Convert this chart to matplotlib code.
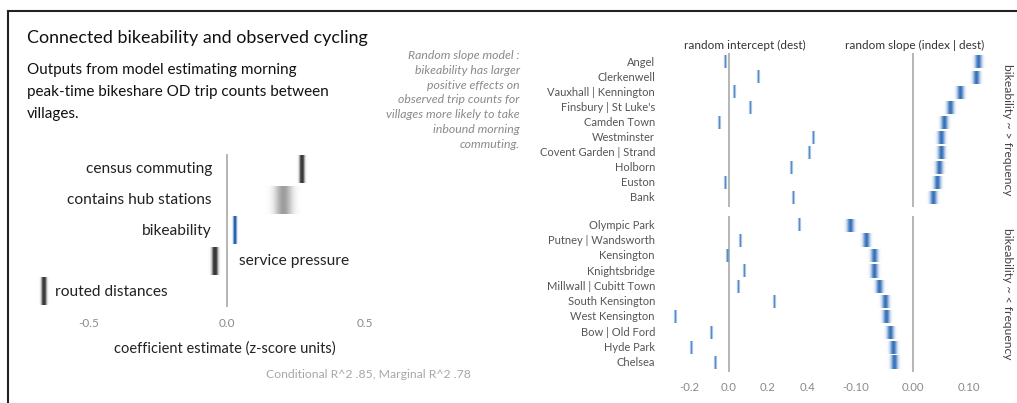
import numpy as np
import matplotlib
matplotlib.use('Agg')
import matplotlib.pyplot as plt
import matplotlib.transforms as mtransforms
from matplotlib.colors import to_rgb
from matplotlib.lines import Line2D

plt.rcParams['font.family'] = ['Lato', 'DejaVu Sans']

# fixed effects
terms = ['census commuting', 'contains hub stations', 'bikeability', 'service pressure', 'routed distances']
est = [0.27, 0.205, 0.027, -0.045, -0.665]
est_sd = [0.006, 0.022, 0.004, 0.007, 0.006]

# random effects, top facet (bikeability ~ > frequency)
top_names = ['Angel', 'Clerkenwell', 'Vauxhall | Kennington', 'Finsbury | St Luke\'s', 'Camden Town',
             'Westminster', 'Covent Garden | Strand', 'Holborn', 'Euston', 'Bank']
top_icpt = [-0.02, 0.15, 0.03, 0.11, -0.05, 0.43, 0.41, 0.32, -0.02, 0.33]
top_slope = [0.117, 0.112, 0.085, 0.067, 0.056, 0.051, 0.050, 0.047, 0.044, 0.036]

# bottom facet (bikeability ~ < frequency)
bot_names = ['Olympic Park', 'Putney | Wandsworth', 'Kensington', 'Knightsbridge', 'Millwall | Cubitt Town',
             'South Kensington', 'West Kensington', 'Bow | Old Ford', 'Hyde Park', 'Chelsea']
bot_icpt = [0.36, 0.06, -0.005, 0.08, 0.05, 0.23, -0.27, -0.09, -0.19, -0.07]
bot_slope = [-0.111, -0.082, -0.068, -0.068, -0.059, -0.049, -0.047, -0.039, -0.035, -0.032]

icpt_sd = 0.0035
slope_sd = 0.0042

W, H = 1017, 403
fig = plt.figure(figsize=(W / 100, H / 100), dpi=100)


def px_axes(l, t, r, b):
    ax = fig.add_axes([l / W, 1 - b / H, (r - l) / W, (b - t) / H])
    ax.patch.set_alpha(0)
    for s in ax.spines.values():
        s.set_visible(False)
    return ax


def blur_mark(ax, x, y, sd, h, color, peak=1.0, zorder=3):
    # gradient bar: opacity follows a normal curve around the estimate
    xs = np.linspace(x - 3.5 * sd, x + 3.5 * sd, 41)
    a = np.exp(-0.5 * ((xs - x) / sd) ** 2)
    a = np.clip(a * peak, 0, 1)
    img = np.zeros((2, len(xs), 4))
    img[:, :, :3] = to_rgb(color)
    img[:, :, 3] = a
    ax.imshow(img, extent=(xs[0], xs[-1], y + h / 2, y - h / 2), aspect='auto',
              interpolation='bilinear', zorder=zorder)


# frame lines
fig.add_artist(Line2D([8 / W, 8 / W], [0, 1 - 11 / H], color='#222222', lw=1.5))
fig.add_artist(Line2D([8 / W, 1], [1 - 11 / H, 1 - 11 / H], color='#222222', lw=1.5))

# titles
fig.text(27 / W, 1 - 38 / H, 'Connected bikeability and observed cycling', fontsize=12.9,
         color='#111111', va='center')
fig.text(27 / W, 1 - 63 / H, 'Outputs from model estimating morning\npeak-time bikeshare OD trip counts between\nvillages.',
         fontsize=11, color='#111111', va='top', linespacing=1.72)

fig.text(520 / W, 1 - 50 / H, 'Random slope model :\nbikeability has larger\npositive effects on\nobserved trip counts for\n'
         'villages more likely to take\ninbound morning\ncommuting.', fontsize=8.8, style='italic',
         color='#8a8a8a', ha='right', va='top', linespacing=1.42)

# left panel: fixed effects
ax = px_axes(30, 154, 420, 307)
ax.set_xlim(-0.714, 0.699)
ax.set_ylim(4.5, -0.5)
ax.axvline(0, color='#b0b0b0', lw=1.3, zorder=1)
for i, t in enumerate(terms):
    col = '#1f5fae' if t == 'bikeability' else '#3a3a3a'
    blur_mark(ax, est[i], i, est_sd[i], 0.9, col, peak=min(1.3, 0.011 / est_sd[i]))
    if est[i] >= 0:
        ax.text(-0.055, i, t, ha='right', va='center', fontsize=11.2, color='#222222')
    elif est[i] > -0.3:
        ax.text(0.043, i, t, ha='left', va='center', fontsize=11.2, color='#222222')
    else:
        ax.text(est[i] + 0.042, i, t, ha='left', va='center', fontsize=11.2, color='#222222')
ax.set_yticks([])
ax.set_xticks([-0.5, 0.0, 0.5])
ax.set_xticklabels(['-0.5', '0.0', '0.5'])
ax.tick_params(axis='x', length=0, labelsize=8.5, labelcolor='#8a8a8a', pad=8)
ax.set_xlabel('coefficient estimate (z-score units)', fontsize=10.5, color='#222222', labelpad=9)
fig.text(368 / W, 1 - 375 / H, 'Conditional R^2 .85, Marginal R^2 .78', fontsize=8.8,
         color='#a8a8a8', ha='center', va='center')

# right panels: random effects
facets = [(top_names, top_icpt, top_slope, 53, 207, 'bikeability ~ > frequency'),
          (bot_names, bot_icpt, bot_slope, 216, 372, 'bikeability ~ < frequency')]
for k, (names, icpt, slope, t, b, strip) in enumerate(facets):
    ai = px_axes(670, t, 820, b)
    asl = px_axes(840, t, 990, b)
    ai.set_xlim(-0.30, 0.465)
    asl.set_xlim(-0.1285, 0.137)
    for a in (ai, asl):
        a.set_ylim(len(names) - 0.4, -0.6)
        a.axvline(0, color='#b0b0b0', lw=1.3, zorder=1)
        a.set_yticks([])
        a.tick_params(axis='x', length=0, labelsize=8.2, labelcolor='#8a8a8a', pad=7)
    for i in range(len(names)):
        blur_mark(ai, icpt[i], i, icpt_sd, 0.82, '#4a84c8', peak=1.2)
        blur_mark(asl, slope[i], i, slope_sd, 0.85, '#3470ba', peak=1.0)
    tr = mtransforms.blended_transform_factory(fig.transFigure, ai.transData)
    for i, n in enumerate(names):
        fig.text(655 / W, i, n, transform=tr, ha='right', va='center', fontsize=8.0, color='#555555')
    if k == 0:
        ai.set_xticks([])
        asl.set_xticks([])
        ai.set_title('random intercept (dest)', fontsize=8.5, color='#333333', pad=3)
        asl.set_title('random slope (index | dest)', fontsize=8.5, color='#333333', pad=3)
    else:
        ai.set_xticks([-0.2, 0.0, 0.2, 0.4])
        ai.set_xticklabels(['-0.2', '0.0', '0.2', '0.4'])
        asl.set_xticks([-0.10, 0.0, 0.10])
        asl.set_xticklabels(['-0.10', '0.00', '0.10'])
    fig.text(1008 / W, 1 - (t + b) / 2 / H, strip, rotation=270, fontsize=8.7, color='#444444',
             ha='center', va='center')

fig.savefig('out.png', dpi=100)
